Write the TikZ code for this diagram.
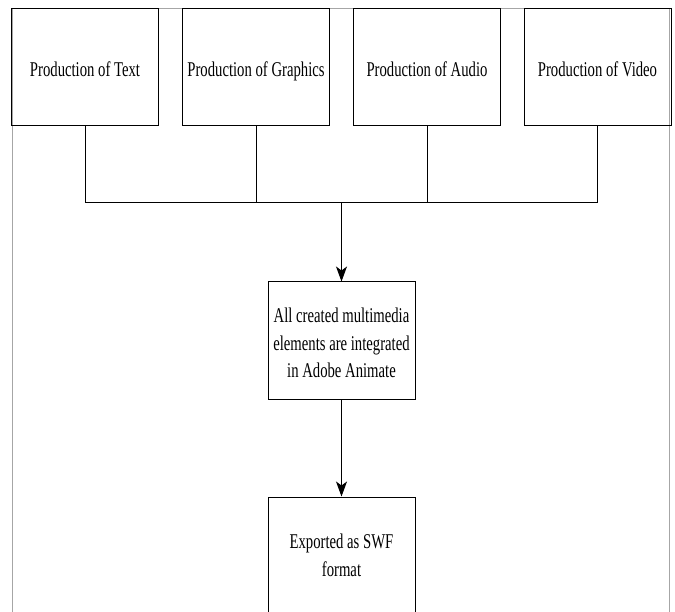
\documentclass[tikz,border=0pt]{standalone}
\usepackage{fontspec}
\setmainfont{Liberation Serif}[FakeStretch=0.7]
\usetikzlibrary{positioning,arrows.meta}
\tikzset{
	stagebox/.style={draw, line width=1pt, inner sep=0pt, align=center,
		minimum width=147pt, minimum height=117pt,
		font=\fontsize{21}{27.5}\selectfont},
	sourcebox/.style={stagebox, text height=19pt, text depth=0pt},
	flowarrow/.style={line width=1pt, -{Stealth[length=15pt,width=11pt,inset=4pt]}}
}

\begin{document}
\begin{tikzpicture}[x=1pt, y=-1pt]
	\useasboundingbox (0,0) rectangle (675,612);
	\clip (0,0) rectangle (675,612);
	\draw[gray!70, line width=0.8pt] (12,620) -- (12,8) -- (669.5,8) -- (669.5,620);
	\node[sourcebox] (text) at (85,67.5) {Production of Text};
	\node[sourcebox] (graphics) at (256,67.5) {Production of Graphics};
	\node[sourcebox] (audio) at (427,67.5) {Production of Audio};
	\node[sourcebox] (video) at (597.5,67.5) {Production of Video};
	\coordinate (hub) at (341.5,203);
	\node[stagebox] (integrate) at (341.5,340.5)
		{\rule{0pt}{20pt}All created multimedia\\elements are integrated\\in Adobe Animate};
	\node[stagebox, below=97pt of integrate] (export) {Exported as SWF\\format};
	\draw[line width=1pt] (text.south) |- (hub) (graphics.south) |- (hub)
		(audio.south) |- (hub) (video.south) |- (hub);
	\draw[flowarrow] (hub) -- (integrate);
	\draw[flowarrow] (integrate) -- (export);
\end{tikzpicture}
\end{document}
